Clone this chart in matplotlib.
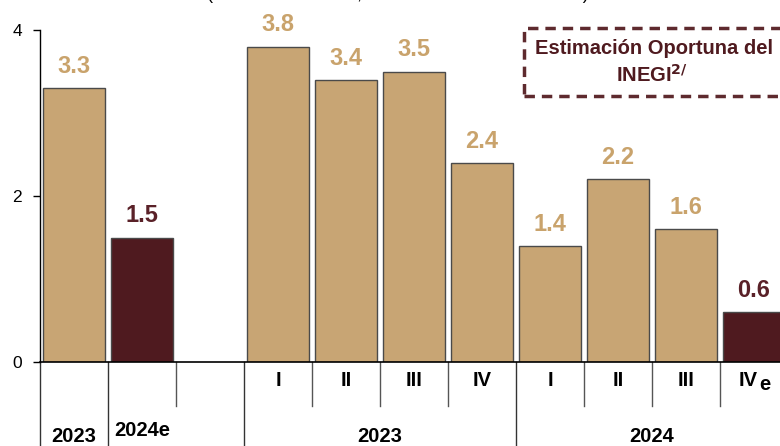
import numpy as np
import matplotlib.pyplot as plt
import matplotlib.patches as mpatches
import matplotlib.transforms as mtransforms

# annual and quarterly growth, % (2024e and IVe are the estimates)
slots = [0, 1, 3, 4, 5, 6, 7, 8, 9, 10]
values = [3.3, 1.5, 3.8, 3.4, 3.5, 2.4, 1.4, 2.2, 1.6, 0.6]
is_estimate = [False, True, False, False, False, False, False, False, False, True]
quarters = ['I', 'II', 'III', 'IV', 'I', 'II', 'III']
quarter_slots = [3, 4, 5, 6, 7, 8, 9]

tan = '#C8A574'
maroon = '#4F1A1F'
label_tan = '#C9A36C'
label_maroon = '#5A2128'

plt.rcParams['font.family'] = ['Liberation Sans', 'DejaVu Sans']

fig = plt.figure(figsize=(7.8, 4.46), dpi=100)
ax = fig.add_axes([40 / 780, 84 / 446, 748 / 780, 332 / 446])

colors = [maroon if e else tan for e in is_estimate]
ax.bar(slots, values, width=0.91, color=colors, edgecolor='#4a4a4a', linewidth=1.0)

for x, v, e in zip(slots, values, is_estimate):
    ax.annotate(f'{v:.1f}', (x, v), xytext=(0, 11), textcoords='offset points',
                ha='center', va='baseline', fontsize=17, fontweight='bold',
                color=label_maroon if e else label_tan)

ax.set_xlim(-0.5, 10.5)
ax.set_ylim(0, 4)
ax.set_yticks([0, 2, 4])
ax.tick_params(axis='y', length=5, width=1, pad=8, labelsize=12.5, direction='out')
ax.set_xticks([])
for s in ['top', 'right']:
    ax.spines[s].set_visible(False)
ax.spines['left'].set_linewidth(1)
ax.spines['bottom'].set_linewidth(1.2)

# category separators below the axis
trans = mtransforms.blended_transform_factory(ax.transData, ax.transAxes)
long_lines = [-0.5, 0.5, 2.5, 6.5]
short_lines = [1.5, 3.5, 4.5, 5.5, 7.5, 8.5, 9.5]
for x in long_lines:
    ax.plot([x, x], [0, -0.26], transform=trans, color='#333333', lw=1, clip_on=False)
for x in short_lines:
    ax.plot([x, x], [0, -44 / 332], transform=trans, color='#555555', lw=1, clip_on=False)

lab = dict(transform=trans, ha='center', va='center', fontsize=14.5, fontweight='bold', color='black')
row1 = -18 / 332
for x, q in zip(quarter_slots, quarters):
    ax.text(x, row1, q, **lab)
ax.text(10.06, row1, 'IV', transform=trans, ha='right', va='center', fontsize=14.5, fontweight='bold')
ax.text(10.07, row1 - 5 / 332, 'e', transform=trans, ha='left', va='center', fontsize=14.5, fontweight='bold')

ax.text(0, -75 / 332, '2023', **lab)
ax.text(1, -69 / 332, '2024e', **lab)
ax.text(4.5, -75 / 332, '2023', **lab)
ax.text(8.5, -75 / 332, '2024', **lab)

# subtitle sits just above the top edge
fig.text(398 / 780, 1 + 1 / 446, '(Variación % anual, series desestacionalizadas)',
         ha='center', va='baseline', fontsize=13)

# dashed legend box
box = mpatches.Rectangle((524 / 780, (446 - 96) / 446), 270 / 780, 68 / 446,
                         transform=fig.transFigure, fill=False, edgecolor='#5E2A2E',
                         linewidth=2.5, linestyle=(0, (3, 2)), clip_on=False)
fig.add_artist(box)
fig.text(654 / 780, (446 - 48) / 446, 'Estimación Oportuna del', ha='center', va='center',
         fontsize=14.5, fontweight='bold', color='#4F1A1F')
fig.text(652 / 780, (446 - 75) / 446, r'INEGI$^{\mathbf{2/}}$', ha='center', va='center',
         fontsize=14.5, fontweight='bold', color='#4F1A1F')

fig.savefig('out.png', dpi=100)
